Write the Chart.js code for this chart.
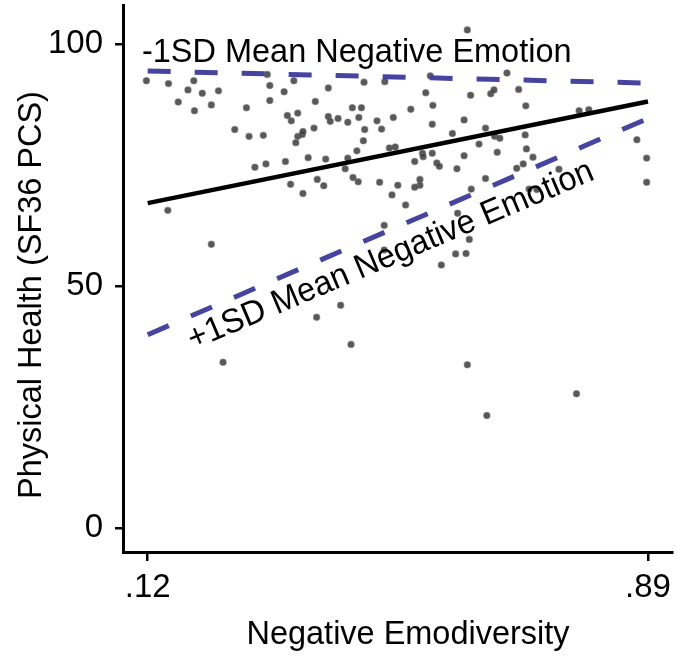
<!DOCTYPE html>
<html><head><meta charset="utf-8">
<script src="https://cdn.jsdelivr.net/npm/chart.js@4"></script>
<style>html,body{margin:0;padding:0;background:#fff;}#wrap{width:680px;height:657px;}</style>
</head><body><div id="wrap"><canvas id="c" width="680" height="657"></canvas></div>
<script>
const xTitle = 'Negative Emodiversity';
const yTitle = 'Physical Health (SF36 PCS)';
const xTickValues = [0.12, 0.89];
const xTickLabels = ['.12', '.89'];
const yTickValues = [0, 50, 100];

const pointX = [0.118,0.152,0.191,0.182,0.204,0.229,0.167,0.192,0.218,0.304,0.308,0.308,0.330,0.345,0.398,0.453,0.485,0.378,0.272,0.254,0.276,0.298,0.335,0.351,0.341,0.351,0.358,0.348,0.359,0.376,0.398,0.401,0.413,0.428,0.435,0.449,0.445,0.473,0.480,0.498,0.454,0.452,0.442,0.492,0.501,0.367,0.394,0.428,0.424,0.285,0.302,0.332,0.340,0.359,0.381,0.391,0.436,0.444,0.477,0.496,0.505,
0.612,0.673,0.555,0.548,0.617,0.648,0.653,0.691,0.525,0.559,0.702,0.558,0.607,0.640,0.589,0.654,0.662,0.701,0.784,0.799,0.630,0.543,0.544,0.531,0.558,0.565,0.569,0.607,0.596,0.658,0.703,0.713,0.698,0.688,0.753,0.873,0.888,0.888,0.640,0.539,0.539,0.531,0.618,0.707,0.719,
0.151,0.218,0.484,0.484,0.417,0.380,0.433,0.236,
0.517,0.597,0.615,0.594,0.610,0.572,0.612,0.780,0.642];
const pointY = [92.4,91.8,92.4,90.5,89.8,90.3,88.0,86.2,87.4,93.7,91.4,88.3,90.1,92.4,90.9,92.1,92.2,88.1,86.8,82.3,80.9,81.1,85.2,85.7,84.1,80.9,81.3,79.6,81.9,82.6,85.0,84.0,84.6,83.8,86.8,86.8,84.8,84.1,82.4,84.8,82.3,80.0,77.9,78.5,78.7,76.5,76.2,76.4,74.2,74.5,75.2,75.7,71.0,69.1,72.0,70.7,72.4,71.5,71.4,68.8,70.8,
102.9,94.0,93.4,89.9,89.4,89.7,90.5,90.6,86.5,87.3,87.2,83.4,84.3,82.6,81.5,80.9,80.5,81.2,86.2,86.4,79.3,77.4,76.7,75.7,77.4,75.4,74.7,76.9,74.2,77.6,78.3,76.6,75.2,74.3,74.1,80.2,76.4,71.4,72.2,72.0,70.8,70.4,70.0,70.0,69.9,
65.6,58.6,62.5,57.4,46.0,43.5,37.9,34.2,
66.7,65.0,59.6,56.6,56.7,54.3,33.7,27.7,23.2];

const lineX = [0.12, 0.89];
const meanLineY = [67.1, 88.1];
const lowEmotionLineY = [94.4, 91.9];
const highEmotionLineY = [39.9, 84.6];
const lowLabel = '-1SD Mean Negative Emotion';
const highLabel = '+1SD Mean Negative Emotion';

const FONT_FAMILY = '"Liberation Sans", Arial, sans-serif';
const FONT_SIZE = 33;
const TEXT_SIZE = 34;
const TEXT_SQUEEZE = 0.955;
const DASH_COLOR = '#4545a0';

const toPts = (xs, ys) => xs.map((v, i) => ({x: v, y: ys[i]}));

function squeezedText(ctx, text, x, y, rot, align) {
  ctx.save();
  ctx.translate(x, y);
  if (rot) ctx.rotate(rot);
  ctx.scale(TEXT_SQUEEZE, 1);
  ctx.textAlign = align;
  ctx.fillText(text, 0, 0);
  ctx.restore();
}

const textPlugin = {
  id: 'texts',
  afterDraw(chart) {
    const ctx = chart.ctx;
    ctx.save();
    ctx.fillStyle = '#000';
    ctx.font = TEXT_SIZE + 'px ' + FONT_FAMILY;
    ctx.textBaseline = 'alphabetic';
    squeezedText(ctx, lowLabel, 142, 62, 0, 'left');
    squeezedText(ctx, highLabel, 193, 350, -23 * Math.PI / 180, 'left');
    squeezedText(ctx, xTitle, 408, 644, 0, 'center');
    squeezedText(ctx, yTitle, 41, 295, -Math.PI / 2, 'center');
    ctx.restore();
  }
};

function noPad(s) { s.paddingTop = 0; s.paddingBottom = 0; s.paddingLeft = 0; s.paddingRight = 0; }

new Chart(document.getElementById('c'), {
  type: 'scatter',
  data: {
    datasets: [
      {type: 'line', data: toPts(lineX, lowEmotionLineY), borderColor: DASH_COLOR, borderWidth: 5, borderDash: [23, 24], pointRadius: 0, fill: false, order: 1, borderCapStyle: 'butt'},
      {type: 'line', data: toPts(lineX, highEmotionLineY), borderColor: DASH_COLOR, borderWidth: 5, borderDash: [23, 24], pointRadius: 0, fill: false, order: 1, borderCapStyle: 'butt'},
      {type: 'line', data: toPts(lineX, meanLineY), borderColor: '#000', borderWidth: 4.5, pointRadius: 0, fill: false, order: 1},
      {data: toPts(pointX, pointY), backgroundColor: 'rgba(60,60,60,0.85)', borderColor: 'rgba(110,110,110,0.5)', borderWidth: 1.2, pointRadius: 3.2, order: 3}
    ]
  },
  options: {
    responsive: false,
    animation: false,
    layout: {padding: {top: 2, right: 8, left: 0, bottom: 0}},
    plugins: {legend: {display: false}, tooltip: {enabled: false}},
    scales: {
      x: {
        type: 'linear', min: 0.082, max: 0.927,
        afterBuildTicks: s => { s.ticks = xTickValues.map(v => ({value: v})); },
        afterFit: s => { s.height = 105; noPad(s); },
        ticks: {callback: (v) => xTickLabels[xTickValues.indexOf(v)], color: '#000', font: {family: FONT_FAMILY, size: FONT_SIZE}, padding: 7, maxRotation: 0, autoSkip: false},
        grid: {drawOnChartArea: false, drawTicks: true, tickLength: 9, color: '#000', lineWidth: 2.5},
        border: {display: true, color: '#000', width: 3}
      },
      y: {
        type: 'linear', min: -5, max: 108,
        afterBuildTicks: s => { s.ticks = yTickValues.map(v => ({value: v})); },
        afterFit: s => { s.width = 123; noPad(s); },
        ticks: {color: '#000', font: {family: FONT_FAMILY, size: FONT_SIZE}, padding: 12},
        grid: {drawOnChartArea: false, drawTicks: true, tickLength: 8, color: '#000', lineWidth: 2.5},
        border: {display: true, color: '#000', width: 3}
      }
    }
  },
  plugins: [textPlugin]
});
</script>
</body></html>
